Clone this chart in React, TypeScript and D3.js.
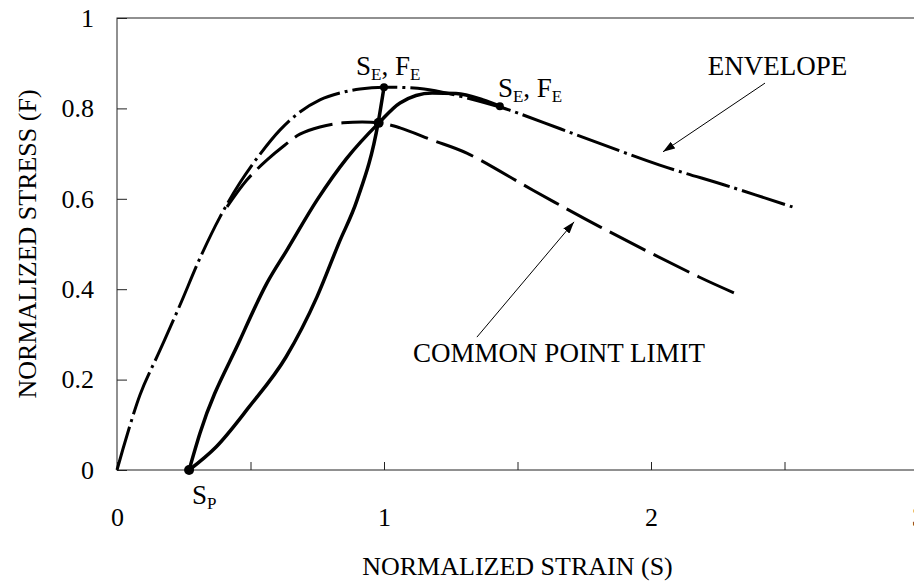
import React, { useEffect, useRef } from 'react';
import * as d3 from 'd3';

type Pt = [number, number];

// normalized strain (S), normalized stress (F)
const envelope: Pt[] = [
  [0, 0.0], [0.086, 0.166], [0.161, 0.265], [0.236, 0.365], [0.311, 0.469], [0.386, 0.56],
  [0.461, 0.636], [0.536, 0.699], [0.61, 0.752], [0.685, 0.792], [0.76, 0.819],
  [0.835, 0.834], [0.91, 0.843], [1.0, 0.847], [1.15, 0.843], [1.25, 0.832],
  [1.434, 0.803], [1.5, 0.79], [1.66, 0.755], [1.81, 0.722], [2.03, 0.675],
  [2.3, 0.626], [2.53, 0.582],
];

const commonLimit: Pt[] = [
  [0.412, 0.582], [0.487, 0.642], [0.562, 0.686], [0.629, 0.719], [0.685, 0.743],
  [0.76, 0.759], [0.846, 0.768], [0.981, 0.768], [1.06, 0.757], [1.18, 0.73],
  [1.31, 0.701], [1.558, 0.619], [1.809, 0.538], [2.18, 0.427], [2.33, 0.387],
];

const reloadBranch: Pt[] = [
  [0.27, 0.0], [0.311, 0.082], [0.461, 0.288], [0.562, 0.414], [0.637, 0.487],
  [0.749, 0.597], [0.861, 0.69], [0.981, 0.768], [1.06, 0.812], [1.18, 0.834],
  [1.27, 0.833], [1.37, 0.819], [1.434, 0.805],
];

const unloadBranch: Pt[] = [
  [0.27, 0.0], [0.371, 0.051], [0.494, 0.139], [0.633, 0.25], [0.749, 0.383],
  [0.831, 0.502], [0.899, 0.597], [0.978, 0.768], [1.0, 0.847],
];

const keyPoints = [
  { s: 1.0, f: 0.847, r: 4 },
  { s: 1.434, f: 0.805, r: 4 },
  { s: 0.98, f: 0.768, r: 5 },
  { s: 0.27, f: 0.0, r: 5 },
];

const xTicks = [0, 0.5, 1, 1.5, 2, 2.5, 3];
const yTicks = [0, 0.2, 0.4, 0.6, 0.8, 1];

const W = 914;
const H = 586;
const FONT = 'Liberation Serif, DejaVu Serif, Times New Roman, serif';

const drawChart = (node: SVGSVGElement) => {
  const svg = d3.select(node);
  svg.selectAll('*').remove();

  const x = d3.scaleLinear().domain([0, 3]).range([117, 918]);
  const y = d3.scaleLinear().domain([0, 1]).range([470, 18]);

  // arrowhead
  svg.append('defs').append('marker')
    .attr('id', 'arrow')
    .attr('viewBox', '0 0 12 8')
    .attr('refX', 12).attr('refY', 4)
    .attr('markerWidth', 12).attr('markerHeight', 8)
    .attr('markerUnits', 'userSpaceOnUse')
    .attr('orient', 'auto')
    .append('path').attr('d', 'M0,0L12,4L0,8Z').attr('fill', '#000');

  // frame
  svg.append('rect')
    .attr('x', x(0)).attr('y', y(1))
    .attr('width', x(3) - x(0)).attr('height', y(0) - y(1))
    .attr('fill', 'none').attr('stroke', '#222').attr('stroke-width', 1);

  // y axis
  const gy = svg.append('g').attr('transform', `translate(${x(0)},0)`)
    .call(d3.axisLeft(y).tickValues(yTicks).tickSizeInner(-10).tickSizeOuter(0).tickPadding(23)
      .tickFormat((d) => d3.format('')(+d)));
  gy.select('.domain').remove();
  gy.selectAll('line').attr('stroke', '#222');
  gy.selectAll('text').style('font-family', FONT).style('font-size', '26px').attr('fill', '#000');

  // x axis
  const gx = svg.append('g').attr('transform', `translate(0,${y(0)})`)
    .call(d3.axisBottom(x).tickValues(xTicks).tickSizeInner(-8).tickSizeOuter(0).tickPadding(38)
      .tickFormat((d) => (Number.isInteger(+d) ? String(d) : '')));
  gx.select('.domain').remove();
  gx.selectAll('line').attr('stroke', '#222');
  gx.selectAll('text').style('font-family', FONT).style('font-size', '26px').attr('fill', '#000');

  // axis titles
  svg.append('text')
    .attr('x', (x(0) + x(3)) / 2).attr('y', 575)
    .attr('text-anchor', 'middle')
    .style('font-family', FONT).style('font-size', '26px')
    .text('NORMALIZED STRAIN (S)');
  svg.append('text')
    .attr('transform', `translate(36,${(y(0) + y(1)) / 2}) rotate(-90)`)
    .attr('text-anchor', 'middle')
    .style('font-family', FONT).style('font-size', '26px')
    .text('NORMALIZED STRESS (F)');

  const line = d3.line<Pt>()
    .x((d) => x(d[0]))
    .y((d) => y(d[1]))
    .curve(d3.curveCatmullRom.alpha(0.5));

  const loopLine = d3.line<Pt>()
    .x((d) => x(d[0]))
    .y((d) => y(d[1]))
    .curve(d3.curveMonotoneX);

  // envelope (dash-dot)
  svg.append('path').datum(envelope)
    .attr('fill', 'none').attr('stroke', '#000').attr('stroke-width', 3)
    .attr('stroke-dasharray', '45,5,3,5')
    .attr('d', line);

  // common point limit (dashed)
  svg.append('path').datum(commonLimit)
    .attr('fill', 'none').attr('stroke', '#000').attr('stroke-width', 3)
    .attr('stroke-dasharray', '40,9')
    .attr('d', line);

  // unload / reload loop
  [reloadBranch, unloadBranch].forEach((b) => {
    svg.append('path').datum(b)
      .attr('fill', 'none').attr('stroke', '#000').attr('stroke-width', 3.5)
      .attr('stroke-linecap', 'round')
      .attr('d', loopLine);
  });

  svg.selectAll('.kp').data(keyPoints).enter().append('circle')
    .attr('class', 'kp')
    .attr('cx', (d) => x(d.s)).attr('cy', (d) => y(d.f)).attr('r', (d) => d.r)
    .attr('fill', '#000');

  // S_E, F_E labels
  const seLabel = (px: number, py: number) => {
    const t = svg.append('text').attr('x', px).attr('y', py)
      .style('font-family', FONT).style('font-size', '27px');
    t.append('tspan').text('S');
    t.append('tspan').style('font-size', '17px').attr('dy', 5).text('E');
    t.append('tspan').attr('dy', -5).text(', F');
    t.append('tspan').style('font-size', '17px').attr('dy', 5).text('E');
  };
  seLabel(x(keyPoints[0].s) - 28, y(keyPoints[0].f) - 12);
  seLabel(x(keyPoints[1].s) - 2, y(keyPoints[1].f) - 9);

  // S_P label
  const sp = svg.append('text')
    .attr('x', x(keyPoints[3].s) + 3).attr('y', y(0) + 34)
    .style('font-family', FONT).style('font-size', '27px');
  sp.append('tspan').text('S');
  sp.append('tspan').style('font-size', '17px').attr('dy', 5).text('P');

  // ENVELOPE annotation
  svg.append('text').attr('x', x(2.213)).attr('y', y(0.874))
    .style('font-family', FONT).style('font-size', '27px').text('ENVELOPE');
  svg.append('line')
    .attr('x1', x(2.427)).attr('y1', y(0.856))
    .attr('x2', x(2.045)).attr('y2', y(0.704))
    .attr('stroke', '#000').attr('stroke-width', 1)
    .attr('marker-end', 'url(#arrow)');

  // COMMON POINT LIMIT annotation
  svg.append('text').attr('x', x(1.109)).attr('y', y(0.239))
    .style('font-family', FONT).style('font-size', '27px').text('COMMON POINT LIMIT');
  svg.append('line')
    .attr('x1', x(1.348)).attr('y1', y(0.294))
    .attr('x2', x(1.712)).attr('y2', y(0.549))
    .attr('stroke', '#000').attr('stroke-width', 1)
    .attr('marker-end', 'url(#arrow)');
};

const App = () => {
  const ref = useRef<SVGSVGElement>(null);

  useEffect(() => {
    if (ref.current) drawChart(ref.current);
  }, []);

  return (
    <svg
      ref={ref}
      width={W}
      height={H}
      style={{ position: 'absolute', left: 0, top: 0, background: '#fff' }}
    />
  );
};

export default App;
